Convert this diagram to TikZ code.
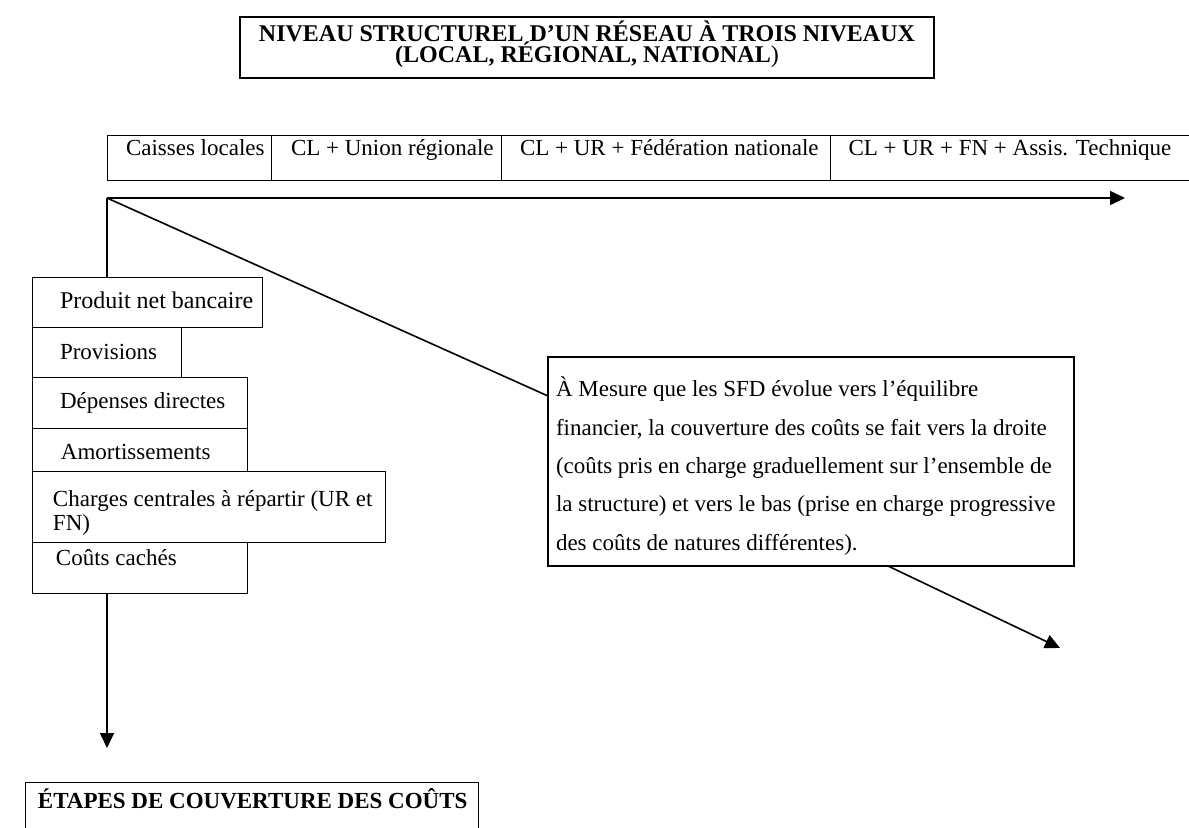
\documentclass[tikz,border=0pt]{standalone}
\usepackage{fontspec}
\setmainfont{Liberation Serif}
\usetikzlibrary{arrows.meta,shadows}
\newcommand{\sbx}[3]{\makebox[#1][l]{\hspace*{#2}#3}}
\begin{document}
\begin{tikzpicture}[x=0.5pt,y=-0.5pt,
  every node/.style={inner sep=0pt, outer sep=0pt, font=\fontsize{11.5}{14}\selectfont},
  box/.style={draw, line width=0.5pt, anchor=north west, fill=white},
  heavybox/.style={box, line width=0.8pt, drop shadow={shadow xshift=0.6pt, shadow yshift=-0.6pt, fill=black!55, opacity=1}},
  cell/.style={box, text height=10pt, text depth=12.5pt},
  conn/.style={line width=0.8pt},
  arr/.style={conn, -{Triangle[length=7.5pt,width=7pt]}}]

\useasboundingbox (0,0) rectangle (1189,828);

% title
\node[heavybox, text height=12.5pt, text depth=18pt] (title) at (240,17)
  {\parbox[t]{347pt}{\centering\bfseries\fontsize{12}{10.5}\selectfont NIVEAU STRUCTUREL D’UN RÉSEAU À TROIS NIVEAUX\\(LOCAL, RÉGIONAL, NATIONAL\mdseries)}};

% header row
\node[cell] (c1) at (107,136) {\sbx{82pt}{9.5pt}{Caisses locales}};
\node[cell] (c2) at (271,136) {\sbx{115pt}{10pt}{CL + Union régionale}};
\node[cell] (c3) at (501,136) {\sbx{164.5pt}{9.5pt}{CL + UR + Fédération nationale}};
\node[cell] (c4) at (830,136) {\sbx{190pt}{9.25pt}{CL + UR + FN + Assis. Technique}};

% connector end points
\coordinate (O) at (107,198);
\coordinate (Hend) at (1125,198);
\coordinate (Dmid) at (548,396);
\coordinate (Dstart) at (888,566);
\coordinate (Dend) at (1060,648);
\coordinate (Vend) at (107,748);

% left stack
\node[box, text height=15.5pt, text depth=9.5pt] (prod) at (32,278) {\sbx{115pt}{14pt}{\fontsize{12}{14}\selectfont Produit net bancaire}};
\node[box, text height=16pt, text depth=9pt] (prov) at (32,328) {\sbx{74.5pt}{14pt}{Provisions}};
\node[box, text height=15.5pt, text depth=10pt] (dep) at (32,378) {\sbx{107.5pt}{14pt}{Dépenses directes}};
\node[box, text height=15pt, text depth=6.5pt] (amort) at (32,429) {\sbx{107.5pt}{14.5pt}{Amortissements}};
\node[box, text height=17.35pt, text depth=17.65pt] (charges) at (32,472)
  {\parbox[t]{176.5pt}{\fontsize{11.5}{11.75}\selectfont\hspace*{10.5pt}Charges centrales à répartir (UR et\\\hspace*{10.5pt}FN)}};
\node[box, text height=12pt, text depth=13.5pt] (cout) at (32,542) {\sbx{107.5pt}{12pt}{Coûts cachés}};

% bottom title
\node[box, text height=13pt, text depth=16pt] (etapes) at (25,782) {\sbx{226.5pt}{6.5pt}{\bfseries ÉTAPES DE COUVERTURE DES COÛTS}};

% connectors
\draw[arr] (O) -- (Hend);
\draw[conn] (O) -- (O |- prod.north);
\draw[arr] (O |- cout.south) -- (Vend);
\draw[conn] (O) -- (Dmid);

% note box
\node[heavybox, text height=20pt, text depth=84.5pt] (note) at (548,357)
  {\parbox[t]{263pt}{\fontsize{11.5}{19.15}\selectfont\leftskip=4pt\relax
  À Mesure que les SFD évolue vers l’équilibre\\
  financier, la couverture des coûts se fait vers la droite\\
  (coûts pris en charge graduellement sur l’ensemble de\\
  la structure) et vers le bas (prise en charge progressive\\
  des coûts de natures différentes).}};

\draw[arr] (Dstart) -- (Dend);
\end{tikzpicture}
\end{document}
